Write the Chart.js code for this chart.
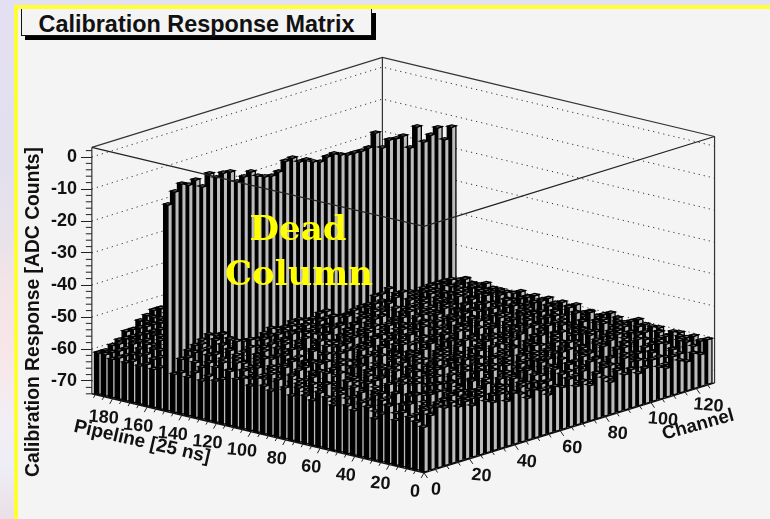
<!DOCTYPE html>
<html><head><meta charset="utf-8">
<style>
html,body{margin:0;padding:0;width:770px;height:519px;overflow:hidden;background:linear-gradient(180deg,#e4e0f3 0%,#e2e0ef 30%,#e8e2ea 45%,#f4e4e8 56%,#f8e6e8 68%,#f2eef4 80%,#eeeef6 90%,#eadfe4 100%);}
#panel{position:absolute;left:14px;top:5px;width:756px;height:514px;box-sizing:border-box;border-left:4px solid #ffff33;border-top:4px solid #ffff33;background:#f4f4f4;}
#titlebox{position:absolute;left:21px;top:9px;width:351px;height:27px;box-sizing:border-box;border:1px solid #111;border-top:0;background:#f4f4f4;box-shadow:4px 4px 0 #000;font:bold 23.4px "Liberation Sans",sans-serif;color:#111;text-align:center;line-height:30px;white-space:nowrap;}
canvas{position:absolute;left:0;top:0;}
</style>
<script src="https://cdn.jsdelivr.net/npm/chart.js@4"></script>
</head><body>
<div id="panel"></div>
<div id="titlebox">Calibration Response Matrix</div>
<canvas id="c" width="770" height="519"></canvas>
<script>
const zTicks=[0,-10,-20,-30,-40,-50,-60,-70];
const pipelineTicks=[0,20,40,60,80,100,120,140,160,180];
const channelTicks=[0,20,40,60,80,100,120];
const channelMax=128, pipelineMax=192, zFloor=-74, zCeil=3;
// one list per pipeline bin, front (pipeline 0) to back; each holds one response per channel bin
const responseRows=[
[-60,-57,-55,-56,-55,-57,-56,-58,-56,-58,-59,-57,-60,-58,-59,-61,-59,-60,-62,-60,-61,-59,-62,-61,-63,-60,-62,-64,-61,-63,-62,-64,-63,-61,-64,-65,-62,-64,-65,-63,-64,-60],
[-59,-56,-58,-55,-57,-54,-58,-57,-59,-56,-60,-58,-57,-61,-59,-58,-62,-60,-59,-61,-63,-58,-60,-62,-59,-63,-61,-60,-64,-62,-59,-63,-61,-64,-60,-62,-65,-61,-63,-60,-62,-61],
[-58,-60,-56,-57,-59,-56,-55,-60,-57,-58,-56,-61,-59,-57,-60,-62,-58,-61,-59,-62,-60,-57,-63,-59,-61,-62,-58,-63,-60,-61,-64,-59,-62,-60,-63,-61,-59,-64,-62,-60,-63,-60],
[-57,-55,-59,-58,-54,-58,-60,-56,-58,-61,-57,-59,-56,-60,-58,-61,-57,-62,-60,-58,-61,-63,-59,-60,-58,-62,-60,-64,-59,-61,-60,-63,-58,-62,-64,-60,-62,-59,-61,-64,-60,-61],
[-60,-58,-56,-54,-57,-59,-55,-58,-60,-57,-59,-55,-60,-58,-62,-57,-60,-59,-61,-57,-62,-60,-58,-61,-63,-59,-61,-58,-62,-60,-63,-61,-59,-60,-62,-58,-63,-61,-60,-62,-59,-60],
[-56,-59,-57,-60,-55,-56,-59,-54,-57,-59,-58,-61,-56,-59,-57,-60,-62,-58,-60,-63,-59,-61,-57,-60,-62,-58,-63,-60,-59,-62,-61,-58,-63,-60,-59,-64,-61,-60,-62,-59,-61,-61],
[-59,-57,-54,-58,-56,-60,-57,-59,-55,-60,-56,-58,-60,-57,-61,-59,-56,-61,-58,-60,-62,-59,-61,-58,-60,-63,-57,-61,-62,-59,-60,-63,-61,-58,-62,-60,-64,-59,-61,-63,-60,-62],
[-61,-56,-58,-55,-59,-57,-54,-60,-58,-56,-61,-57,-59,-62,-58,-56,-60,-62,-59,-57,-61,-60,-63,-58,-61,-59,-62,-60,-58,-63,-60,-62,-59,-61,-63,-58,-60,-62,-64,-60,-59,-60],
[-58,-60,-55,-57,-60,-54,-58,-56,-59,-57,-55,-60,-58,-61,-56,-60,-58,-59,-63,-60,-57,-62,-59,-61,-58,-62,-61,-59,-63,-57,-61,-60,-62,-59,-64,-61,-58,-63,-60,-61,-62,-61],
[-57,-59,-56,-60,-54,-58,-56,-59,-57,-60,-58,-54,-59,-57,-61,-58,-62,-57,-60,-58,-61,-59,-63,-60,-62,-58,-60,-63,-61,-59,-62,-60,-64,-58,-61,-62,-60,-59,-63,-61,-60,-60],
[-60,-55,-58,-56,-58,-60,-55,-57,-60,-56,-59,-57,-61,-55,-59,-60,-57,-62,-59,-61,-57,-60,-58,-62,-59,-61,-57,-62,-60,-58,-63,-61,-60,-62,-58,-63,-61,-60,-59,-62,-63,-59],
[-59,-57,-60,-54,-56,-59,-57,-61,-56,-58,-55,-60,-57,-59,-62,-58,-60,-56,-61,-59,-63,-58,-60,-61,-57,-62,-60,-59,-61,-63,-58,-60,-62,-61,-59,-60,-63,-58,-62,-60,-61,-60],
[-56,-58,-55,-59,-57,-55,-60,-58,-54,-59,-60,-56,-58,-60,-57,-61,-59,-58,-60,-62,-58,-61,-59,-60,-63,-58,-61,-62,-59,-60,-62,-58,-61,-63,-60,-59,-62,-61,-58,-63,-60,-61],
[-60,-56,-59,-57,-60,-54,-58,-56,-60,-57,-61,-59,-55,-60,-58,-56,-61,-60,-57,-62,-60,-59,-61,-57,-60,-62,-59,-63,-60,-61,-58,-62,-60,-59,-63,-61,-60,-62,-59,-61,-62,-60],
[-58,-60,-57,-55,-58,-59,-56,-60,-58,-55,-57,-61,-58,-57,-60,-62,-58,-60,-59,-57,-62,-60,-58,-63,-59,-60,-61,-58,-62,-60,-59,-61,-63,-60,-58,-62,-61,-59,-63,-60,-61,-59],
[-57,-55,-60,-58,-56,-57,-60,-55,-59,-58,-60,-56,-60,-58,-56,-61,-59,-57,-62,-60,-58,-61,-60,-62,-57,-61,-59,-60,-63,-58,-61,-60,-62,-58,-61,-60,-63,-61,-60,-58,-62,-60],
[-60,-58,-56,-59,-54,-60,-57,-59,-56,-61,-57,-59,-57,-61,-59,-58,-60,-62,-58,-60,-61,-57,-62,-59,-60,-63,-58,-61,-59,-62,-60,-58,-61,-60,-62,-59,-60,-62,-58,-61,-60,-61],
[-59,-56,-58,-54,-59,-56,-58,-60,-55,-58,-60,-57,-60,-56,-58,-60,-57,-59,-61,-58,-60,-62,-59,-57,-61,-60,-62,-58,-60,-61,-59,-63,-60,-59,-61,-62,-58,-60,-62,-59,-61,-60],
[-57,-59,-55,-58,-57,-59,-54,-58,-60,-56,-59,-58,-55,-60,-57,-61,-58,-60,-57,-61,-59,-60,-62,-58,-61,-59,-60,-62,-57,-61,-60,-59,-62,-58,-60,-61,-59,-62,-60,-58,-61,-61],
[-60,-57,-59,-56,-55,-60,-58,-56,-59,-57,-60,-55,-58,-59,-61,-57,-60,-58,-62,-59,-57,-61,-60,-58,-62,-60,-59,-61,-60,-58,-62,-59,-61,-60,-58,-62,-60,-61,-59,-62,-60,-59],
[-58,-55,-57,-60,-56,-54,-59,-57,-55,-60,-58,-56,-60,-57,-59,-62,-58,-60,-59,-61,-60,-58,-61,-59,-60,-57,-62,-60,-58,-61,-60,-62,-59,-61,-58,-60,-62,-59,-61,-60,-58,-60],
[-56,-60,-58,-55,-59,-57,-60,-55,-58,-56,-59,-60,-57,-58,-60,-56,-61,-59,-57,-60,-62,-59,-60,-61,-58,-60,-61,-59,-62,-57,-60,-61,-58,-62,-60,-59,-61,-60,-62,-59,-60,-61],
[-60,-58,-54,-57,-60,-56,-55,-59,-57,-60,-55,-58,-59,-56,-60,-58,-59,-61,-60,-57,-59,-62,-58,-60,-59,-61,-60,-58,-60,-62,-59,-60,-61,-58,-60,-62,-59,-60,-61,-58,-60,-60],
[-59,-56,-59,-57,-54,-58,-60,-56,-59,-55,-60,-57,-56,-60,-58,-57,-61,-58,-60,-59,-61,-57,-60,-59,-61,-58,-60,-62,-59,-60,-58,-61,-60,-59,-62,-60,-58,-61,-60,-59,-62,-59],
[-57,-58,-56,-60,-57,-55,-58,-60,-54,-58,-57,-60,-55,-59,-57,-60,-59,-56,-61,-58,-60,-58,-61,-60,-57,-62,-59,-60,-58,-61,-60,-59,-61,-60,-58,-61,-59,-60,-62,-60,-58,-60],
[-60,-55,-58,-56,-59,-57,-56,-59,-58,-56,-60,-55,-58,-60,-56,-59,-58,-60,-57,-61,-59,-60,-57,-61,-59,-60,-62,-58,-60,-59,-61,-58,-60,-62,-59,-60,-61,-58,-60,-61,-59,-61],
[-58,-59,-57,-54,-58,-60,-55,-57,-59,-60,-56,-58,-59,-57,-60,-58,-56,-61,-59,-58,-60,-61,-59,-58,-61,-60,-58,-61,-60,-62,-59,-60,-61,-59,-60,-58,-62,-60,-59,-61,-60,-60],
[-59,-57,-60,-58,-55,-56,-59,-57,-55,-58,-60,-57,-55,-59,-58,-60,-57,-59,-60,-57,-61,-59,-60,-60,-58,-61,-59,-60,-62,-58,-60,-61,-59,-60,-62,-59,-61,-60,-58,-60,-61,-59],
[-57,-55,-58,-60,-57,-54,-58,-60,-56,-59,-57,-54,-59,-60,-57,-58,-60,-58,-61,-59,-57,-60,-61,-58,-60,-59,-61,-58,-60,-61,-60,-58,-61,-60,-59,-61,-60,-58,-61,-60,-59,-60],
[-60,-58,-55,-57,-59,-57,-54,-59,-58,-55,-60,-58,-56,-58,-60,-56,-59,-60,-58,-60,-59,-61,-58,-60,-61,-59,-58,-61,-60,-59,-60,-61,-58,-60,-61,-60,-59,-61,-60,-59,-60,-61],
[-61,-56,-59,-55,-58,-60,-57,-56,-59,-57,-55,-60,-58,-57,-59,-60,-57,-60,-59,-58,-61,-59,-60,-57,-60,-61,-59,-60,-58,-61,-59,-60,-61,-59,-60,-58,-61,-60,-59,-60,-61,-60],
[-60,-58,-56,-54,-57,-59,-55,-58,-60,-56,-58,-56,-60,-58,-56,-59,-60,-58,-57,-60,-59,-58,-61,-59,-60,-58,-61,-60,-59,-60,-61,-58,-60,-59,-61,-60,-58,-60,-61,-59,-60,-60],
[-62,-57,-55,-58,-56,-53,-57,-59,-57,-55,-59,-57,-58,-56,-59,-60,-58,-59,-57,-60,-58,-60,-59,-58,-60,-57,-59,-61,-58,-60,-59,-60,-58,-61,-59,-60,-59,-58,-60,-59,-60,-59],
[-60,-59,-56,-56,-54,-56,-55,-58,-55,-58,-57,-59,-56,-58,-60,-57,-58,-60,-58,-58,-60,-59,-57,-60,-59,-60,-58,-59,-57,-60,-60,-58,-60,-59,-58,-60,-59,-60,-58,-60,-59,-60],
[-62,-58,-55,-57,-53,-55,-54,-57,-56,-59,-57,-58,-57,-59,-57,-58,-58,-57,-59,-57,-59,-57,-60,-58,-57,-59,-60,-57,-59,-58,-57,-56,-59,-60,-58,-59,-60,-58,-59,-60,-58,-60],
[-61,-57,-56,-54,-56,-54,-53,-55,-58,-57,-59,-58,-60,-58,-59,-57,-57,-58,-58,-59,-58,-58,-58,-59,-60,-59,-60,-59,-60,-58,-59,-57,-60,-59,-60,-58,-59,-60,-59,-58,-60,-59],
[-62,-58,-56,-55,-54,-53,-54,-54,-57,-58,-59,-60,-59,-58,-57,-58,-58,-57,-57,-58,-58,-57,-57,-60,-60,-60,-60,-59,-59,-57,-57,-56,-60,-59,-59,-60,-60,-59,-59,-59,-60,-60],
[-9.6,-6.2,-4.4,-5.4,-4.5,-7.3,-3.9,-5.8,-5,-5.3,-9.1,-8.2,-7.3,-9.3,-10.2,-10.6,-10,-7.3,-7,-8.9,-8.9,-10.2,-10.9,-10,-9.7,-10.7,-11.4,-11.4,-11.5,-11.2,-7.2,-12.5,-10.7,-11,-10.8,-15.2,-9.3,-14.7,-13.2,-11.6,-16,-12.7],
[-61,-58,-56,-55,-53,-54,-55,-56,-57,-56,-58,-57,-59,-58,-57,-59,-58,-60,-59,-58,-60,-59,-58,-60,-59,-58,-60,-59,-61,-60,-58,-59,-60,-61,-59,-58,-60,-59,-60,-61,-59,-60],
[-62,-59,-57,-56,-55,-53,-54,-55,-56,-57,-56,-58,-60,-57,-59,-58,-60,-59,-57,-60,-58,-59,-60,-58,-61,-59,-60,-58,-60,-59,-61,-60,-58,-59,-60,-61,-58,-60,-59,-60,-61,-59],
[-61,-60,-58,-57,-54,-55,-53,-54,-55,-57,-58,-57,-59,-58,-60,-57,-59,-60,-58,-59,-61,-58,-60,-59,-58,-60,-61,-59,-60,-58,-59,-61,-60,-58,-60,-59,-61,-60,-59,-60,-58,-60],
[-62,-59,-58,-56,-55,-54,-53,-55,-54,-56,-57,-59,-58,-60,-57,-59,-60,-58,-60,-59,-57,-60,-59,-61,-58,-60,-59,-61,-59,-60,-58,-60,-61,-59,-60,-58,-60,-61,-59,-60,-59,-61],
[-61,-60,-57,-58,-56,-54,-55,-52,-54,-55,-57,-58,-60,-58,-59,-60,-57,-60,-59,-58,-60,-59,-60,-58,-60,-61,-59,-58,-60,-59,-61,-58,-60,-59,-61,-60,-59,-60,-58,-61,-60,-59],
[-62,-60,-59,-57,-56,-55,-54,-53,-52,-55,-56,-58,-57,-59,-60,-58,-60,-59,-57,-60,-58,-61,-59,-60,-58,-59,-61,-60,-58,-60,-59,-60,-61,-58,-60,-59,-61,-59,-60,-60,-58,-60],
[-61,-61,-58,-58,-56,-56,-54,-53,-53,-54,-55,-57,-59,-58,-60,-59,-57,-60,-58,-59,-60,-58,-61,-59,-60,-57,-60,-59,-61,-60,-58,-59,-61,-60,-58,-60,-59,-60,-61,-59,-60,-59],
[-62,-60,-60,-58,-57,-55,-55,-54,-53,-53,-55,-56,-58,-60,-57,-59,-60,-58,-60,-59,-58,-60,-59,-61,-58,-60,-59,-60,-58,-61,-59,-60,-58,-60,-61,-59,-60,-58,-60,-59,-61,-60],
[-61,-61,-59,-58,-58,-56,-55,-54,-52,-53,-54,-56,-57,-59,-58,-60,-58,-59,-60,-57,-60,-59,-58,-60,-61,-58,-60,-59,-60,-61,-59,-58,-60,-59,-60,-61,-58,-60,-59,-60,-59,-60],
[-61,-61,-60,-59,-57,-57,-55,-54,-53,-53,-54,-55,-57,-58,-60,-58,-59,-60,-58,-60,-59,-57,-60,-59,-61,-60,-58,-60,-59,-60,-61,-59,-60,-58,-60,-61,-59,-60,-58,-60,-60,-59]
];

// view of the lego box: how channel / pipeline move a point along the two chart scales
const VIEW={xFront:332,xPerChannel:2.27,xPerPipeline:-1.73,liftFront:-24.7,liftPerChannel:0.2195,liftPerPipeline:0.12865};
const hx=(c,p)=>VIEW.xFront+VIEW.xPerChannel*c+VIEW.xPerPipeline*p;
const vy=(c,p,z)=>z+VIEW.liftFront+VIEW.liftPerChannel*c+VIEW.liftPerPipeline*p;
const pt=(c,p,z)=>({x:hx(c,p),y:vy(c,p,z)});
const GAP={x:NaN,y:NaN};
const CW=channelMax/responseRows[0].length, PW=pipelineMax/responseRows.length, FC=0.63, FP=0.62;

function lineSet(data,extra){return Object.assign({type:'scatter',data,showLine:true,pointRadius:0,pointHoverRadius:0,borderColor:'#000',borderWidth:1.3,fill:false,spanGaps:false,clip:false,borderDash:[400,0],tension:0},extra||{});}
function poly(list,verts){list.push(...verts,verts[0],GAP);}

const painter=[];
// back walls, dotted levels and frame
const dotted=[];
zTicks.forEach(z=>{dotted.push(pt(0,pipelineMax,z),pt(channelMax,pipelineMax,z),pt(channelMax,0,z),GAP);});
painter.push(lineSet(dotted,{borderDash:[1.2,4],borderColor:'#333',borderWidth:1}));
const backFrame=[pt(0,pipelineMax,zCeil),pt(channelMax,pipelineMax,zCeil),pt(channelMax,0,zCeil),GAP,
 pt(0,pipelineMax,zFloor),pt(0,pipelineMax,zCeil),GAP,
 pt(channelMax,pipelineMax,zFloor),pt(channelMax,pipelineMax,zCeil),GAP,
 pt(channelMax,0,zFloor),pt(channelMax,0,zCeil)];
painter.push(lineSet(backFrame,{borderColor:'#333',borderWidth:1.2}));
// lego rows, back to front
for(let r=responseRows.length-1;r>=0;r--){
  const row=responseRows[r], sideC=[], faceP=[], tops=[];
  const p0=r*PW+PW*(1-FP)/2, p1=p0+PW*FP;
  for(let k=row.length-1;k>=0;k--){
    const c0=k*CW+CW*(1-FC)/2, c1=c0+CW*FC, z=row[k];
    poly(sideC,[pt(c0,p0,zFloor),pt(c0,p1,zFloor),pt(c0,p1,z),pt(c0,p0,z)]);
    poly(faceP,[pt(c0,p0,zFloor),pt(c1,p0,zFloor),pt(c1,p0,z),pt(c0,p0,z)]);
    poly(tops,[pt(c0,p0,z),pt(c1,p0,z),pt(c1,p1,z),pt(c0,p1,z)]);
  }
  painter.push(lineSet(sideC,{fill:'shape',backgroundColor:'#000'}));
  painter.push(lineSet(faceP,{fill:'shape',backgroundColor:'#bcbcbc'}));
  painter.push(lineSet(tops,{fill:'shape',backgroundColor:'#8c8c8c'}));
}
// front rim and floor edges
painter.push(lineSet([pt(0,pipelineMax,zCeil),pt(0,0,zCeil),pt(channelMax,0,zCeil)],{borderColor:'#222',borderWidth:1.2}));
painter.push(lineSet([pt(0,pipelineMax,zFloor),pt(0,0,zFloor),pt(channelMax,0,zFloor)],{borderColor:'#111',borderWidth:1.4}));
// axis tick marks
const tickMarks=[];
for(let c=0;c<=channelMax;c+=5){const a=pt(c,0,zFloor),m=c%20===0?1.6:1;tickMarks.push(a,{x:a.x+2.2*m,y:a.y-3.2/3.2*m},GAP);}
for(let p=0;p<=pipelineMax;p+=5){const a=pt(0,p,zFloor),m=p%20===0?1.6:1;tickMarks.push(a,{x:a.x-1.8*m,y:a.y-3.2/3.2*m},GAP);}
for(let z=zCeil-1;z>=zFloor;z-=2){if(z%10!==0){const a=pt(0,pipelineMax,z);tickMarks.push(a,{x:a.x-6,y:a.y},GAP);}}
painter.push(lineSet(tickMarks,{borderColor:'#222',borderWidth:1}));
const datasets=painter.slice().reverse();

const textPlugin={id:'legoText',afterDraw(chart){
  const {ctx,scales:{x,y}}=chart;
  const at=(c,p,z)=>[x.getPixelForValue(hx(c,p)),y.getPixelForValue(vy(c,p,z))];
  const put=(t,px,py,deg,font,color)=>{ctx.save();ctx.translate(px,py);ctx.rotate(deg*Math.PI/180);ctx.font=font;ctx.fillStyle=color||'#111';ctx.textAlign='center';ctx.textBaseline='middle';ctx.fillText(t,0,0);ctx.restore();};
  const tf='bold 18px "Liberation Sans",sans-serif';
  pipelineTicks.forEach(p=>{const [a,b]=at(0,p,zFloor);put(String(p),a-9,b+19,5,tf);});
  channelTicks.forEach(c=>{const [a,b]=at(c,0,zFloor);put(String(c),a+12,b+17,5,tf);});
  put('Pipeline [25 ns]',142,442,13,'bold 19px "Liberation Sans",sans-serif');
  put('Channel',698,425,-15.6,'bold 18.7px "Liberation Sans",sans-serif');
  put('Calibration Response [ADC Counts]',34,312,-90,'bold 19.3px "Liberation Sans",sans-serif');
  put('Dead',298,231,0,'bold 34px "DejaVu Serif",serif','#ffff00');
  put('Column',299,276,0,'bold 34px "DejaVu Serif",serif','#ffff00');
}};

new Chart(document.getElementById('c'),{
  data:{datasets},
  options:{responsive:false,animation:false,events:[],
    layout:{padding:{left:0,right:50,top:50,bottom:29}},
    plugins:{legend:{display:false},tooltip:{enabled:false}},
    scales:{
      x:{type:'linear',display:false,min:0,max:628},
      y:{type:'linear',min:-104.0625,max:33.4375,position:'left',
        afterFit(s){s.width=92;},
        afterBuildTicks(s){s.ticks=zTicks.map(v=>({value:v}));},
        border:{display:false},
        grid:{drawOnChartArea:false,drawTicks:true,tickLength:11,tickColor:'#222',tickWidth:1},
        ticks:{autoSkip:false,padding:4,color:'#111',font:{family:'"Liberation Sans",sans-serif',size:18,weight:'bold'},callback:v=>String(v)}
      }
    }
  },
  plugins:[textPlugin]
});
</script>
</body></html>
